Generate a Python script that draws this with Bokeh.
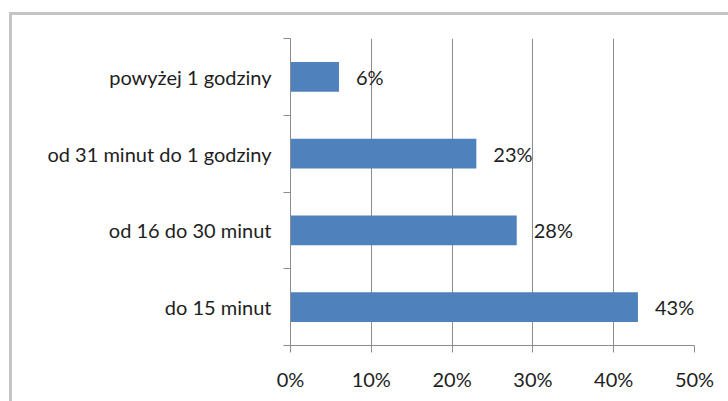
from bokeh.plotting import figure
from bokeh.models import (FixedTicker, NumeralTickFormatter, ColumnDataSource, Range1d,
                          InlineStyleSheet)
from bokeh.core.properties import value
from bokeh.embed import file_html
from bokeh.resources import INLINE

# Time spent, share of respondents
categories = ["do 15 minut", "od 16 do 30 minut", "od 31 minut do 1 godziny", "powyżej 1 godziny"]
shares = [0.43, 0.28, 0.23, 0.06]
x_ticks = [0.0, 0.1, 0.2, 0.3, 0.4, 0.5]

FONT = "Lato"
FSIZE = "20px"
TEXT = "#1e1e1e"
BAR = "#4f81bd"
GRID = "#8c8c8c"

ypos = [i + 0.5 for i in range(len(categories))]
labels = [f"{round(v * 100)}%" for v in shares]
src = ColumnDataSource(dict(y=ypos, v=shares, lab=labels))

p = figure(width=728, height=401, output_backend="svg", toolbar_location=None,
           x_range=Range1d(0, 0.5), y_range=Range1d(0, len(categories)),
           min_border_left=290, min_border_right=34, min_border_top=38, min_border_bottom=56)
p.outline_line_color = None
p.background_fill_color = "white"

p.hbar(y="y", right="v", left=0, height=0.39, source=src, color=BAR, line_color=None)
p.text(x="v", y="y", text="lab", source=src, x_offset=17, text_baseline="middle",
       text_font=value(FONT), text_font_size=FSIZE, text_color=TEXT)

# x axis
xa = p.xaxis[0]
xa.ticker = FixedTicker(ticks=x_ticks, minor_ticks=[])
xa.formatter = NumeralTickFormatter(format="0%")
xa.axis_line_color = GRID
xa.major_tick_line_color = GRID
xa.major_tick_in = 0
xa.major_tick_out = 7
xa.major_label_standoff = 14
xa.major_label_text_font = FONT
xa.major_label_text_font_size = FSIZE
xa.major_label_text_color = TEXT

# y axis: labels centred on the bands, ticks on the band edges
ya = p.yaxis[0]
ya.ticker = FixedTicker(ticks=ypos, minor_ticks=list(range(len(categories) + 1)))
ya.major_label_overrides = {y: c for y, c in zip(ypos, categories)}
ya.axis_line_color = GRID
ya.major_tick_line_color = None
ya.major_tick_out = 0
ya.minor_tick_line_color = GRID
ya.minor_tick_out = 7
ya.minor_tick_in = 0
ya.major_label_standoff = 12
ya.major_label_text_font = FONT
ya.major_label_text_font_size = FSIZE
ya.major_label_text_color = TEXT

p.xgrid.ticker = FixedTicker(ticks=x_ticks)
p.xgrid.grid_line_color = GRID
p.ygrid.grid_line_color = None

# outer chart border (runs past the right and bottom edges)
p.stylesheets = [InlineStyleSheet(css="""
:host { position: relative; overflow: hidden; }
:host::after {
  content: ""; position: absolute; left: 9px; top: 12px; width: 760px; height: 440px;
  border: 3px solid #c4c4c4; pointer-events: none; box-sizing: border-box;
}
""")]

open("out.html", "w").write(file_html(p, INLINE))
